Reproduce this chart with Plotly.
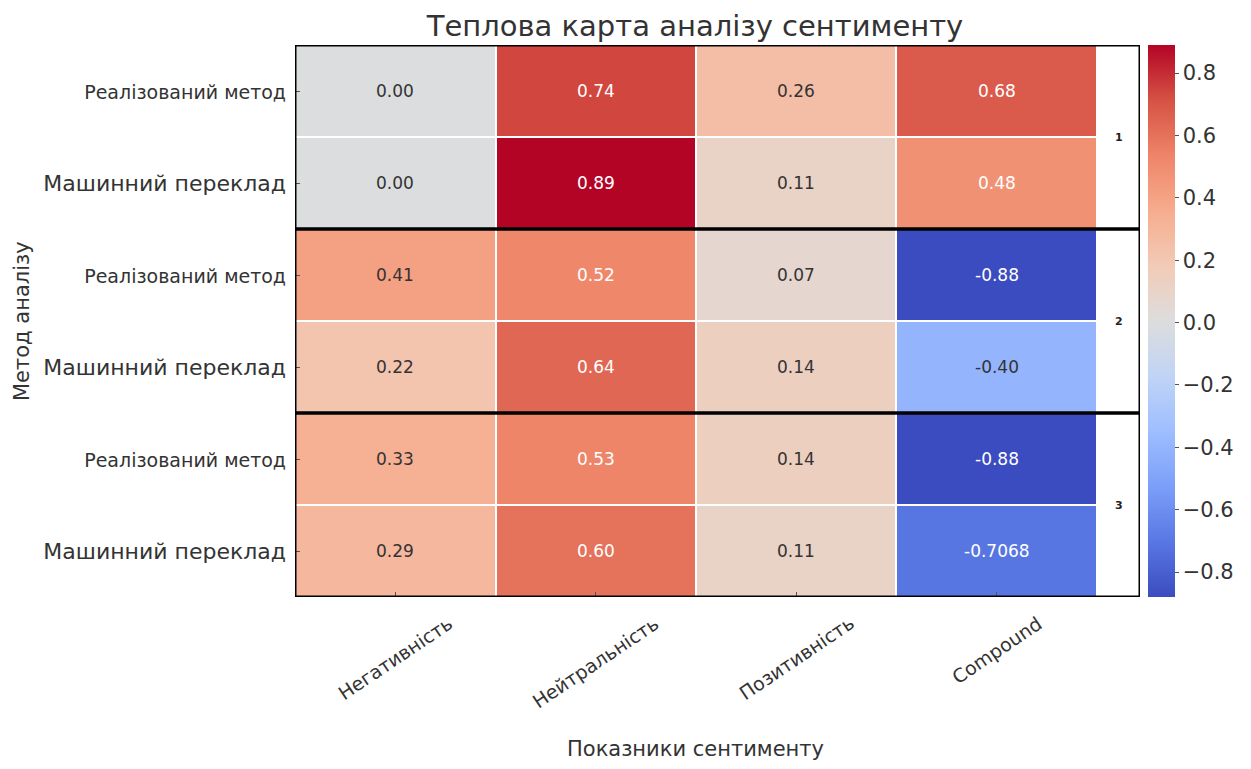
import plotly.graph_objects as go
from plotly.colors import sample_colorscale

# ---- data ----
columns = ["Негативність", "Нейтральність", "Позитивність", "Compound"]
row_labels = ["Реалізований метод", "Машинний переклад",
              "Реалізований метод", "Машинний переклад",
              "Реалізований метод", "Машинний переклад"]
group_labels = ["1", "2", "3"]
values = [
    [0.00, 0.74, 0.26, 0.68],
    [0.00, 0.89, 0.11, 0.48],
    [0.41, 0.52, 0.07, -0.88],
    [0.22, 0.64, 0.14, -0.40],
    [0.33, 0.53, 0.14, -0.88],
    [0.29, 0.60, 0.11, -0.7068],
]
cell_text = [
    ["0.00", "0.74", "0.26", "0.68"],
    ["0.00", "0.89", "0.11", "0.48"],
    ["0.41", "0.52", "0.07", "-0.88"],
    ["0.22", "0.64", "0.14", "-0.40"],
    ["0.33", "0.53", "0.14", "-0.88"],
    ["0.29", "0.60", "0.11", "-0.7068"],
]
cbar_ticks = [-0.8, -0.6, -0.4, -0.2, 0.0, 0.2, 0.4, 0.6, 0.8]

# ---- style ----
FONT = "DejaVu Sans"
TXT = "#333333"
coolwarm_hex = ["#3b4cc0", "#5977e3", "#7b9ff9", "#9ebeff", "#c0d4f5", "#dddddd",
                "#f2cbb7", "#f7ac8e", "#ee8468", "#d65244", "#b40426"]
colorscale = [[i / (len(coolwarm_hex) - 1), c] for i, c in enumerate(coolwarm_hex)]

W, H = 1235, 753
L, R, T, B = 287, 103, 37, 164
PW = W - L - R
PH = H - T - B

flat = [v for r in values for v in r]
zmin, zmax = min(flat), max(flat)
n_rows = len(values)
n_cols = len(columns)
extra = 0.2145  # width of the group-label strip (in column units)

fig = go.Figure()
fig.add_trace(go.Heatmap(
    z=values, x=list(range(n_cols)), y=list(range(n_rows)),
    colorscale=colorscale, zmin=zmin, zmax=zmax,
    xgap=2, ygap=2, hoverinfo="skip",
    colorbar=dict(
        x=(1140 - L) / PW, xanchor="left", xpad=0, ypad=0,
        y=0.5, yanchor="middle", len=1, lenmode="fraction",
        thickness=27, outlinewidth=0,
        tickvals=cbar_ticks, tickformat=".1f",
        ticks="outside", ticklen=4, tickcolor="#555",
        tickfont=dict(family=FONT, size=21, color=TXT),
    ),
))


def rel_lum(rgb):
    out = []
    for c in rgb:
        c = c / 255
        out.append(c / 12.92 if c <= 0.03928 else ((c + 0.055) / 1.055) ** 2.4)
    return 0.2126 * out[0] + 0.7152 * out[1] + 0.0722 * out[2]


annotations = []
for i, row in enumerate(values):
    for j, v in enumerate(row):
        col = sample_colorscale(colorscale, [(v - zmin) / (zmax - zmin)])[0]
        rgb = [float(s) for s in col[col.index("(") + 1:-1].split(",")]
        fc = "#333333" if rel_lum(rgb) > 0.408 else "white"
        annotations.append(dict(x=j, y=i, xref="x", yref="y", text=cell_text[i][j],
                                showarrow=False, font=dict(family=FONT, size=17, color=fc)))

shapes = []
for g, lab in enumerate(group_labels):
    y0 = g * 2 - 0.5
    y1 = g * 2 + 1.5
    shapes.append(dict(type="rect", xref="x", yref="y", x0=-0.5, x1=n_cols - 0.5 + extra,
                       y0=y0, y1=y1, line=dict(color="black", width=3)))
    annotations.append(dict(x=n_cols - 0.5 + extra / 2, y=(y0 + y1) / 2, xref="x", yref="y",
                            text="<b>" + lab + "</b>", showarrow=False,
                            font=dict(family=FONT, size=11, color="#222")))

# rotated x tick labels, centred under each tick (matplotlib style)
for j, lab in enumerate(columns):
    annotations.append(dict(x=j, y=0, xref="x", yref="paper", text=lab,
                            textangle=-34, showarrow=False,
                            xanchor="center", yanchor="top", yshift=-12,
                            font=dict(family=FONT, size=19, color=TXT)))

ytext = []
for lab in row_labels:
    if lab.startswith("Реал"):
        ytext.append("<span style='font-size:19px'>" + lab + "</span>")
    else:
        ytext.append(lab)

# axis titles
annotations.append(dict(text="Метод аналізу", xref="paper", yref="paper",
                        x=(14 - L) / PW, y=0.5, textangle=-90, showarrow=False,
                        xanchor="center", yanchor="middle",
                        font=dict(family=FONT, size=21, color=TXT)))
annotations.append(dict(text="Показники сентименту", xref="paper", yref="paper",
                        x=(687 - L) / PW, y=-(741 - (T + PH)) / PH, showarrow=False,
                        xanchor="center", yanchor="middle",
                        font=dict(family=FONT, size=21, color=TXT)))

fig.update_layout(
    width=W, height=H,
    margin=dict(l=L, r=R, t=T, b=B, autoexpand=False),
    paper_bgcolor="white", plot_bgcolor="white",
    font=dict(family=FONT, color=TXT),
    title=dict(text="Теплова карта аналізу сентименту", x=687 / W, xanchor="center",
               xref="container", y=1 - 18 / H, yanchor="middle",
               font=dict(family=FONT, size=29, color=TXT)),
    xaxis=dict(range=[-0.5, n_cols - 0.5 + extra], tickvals=list(range(n_cols)),
               showticklabels=False, showgrid=False, zeroline=False,
               ticks="inside", ticklen=5, tickcolor="#555"),
    yaxis=dict(range=[n_rows - 0.5, -0.5], tickvals=list(range(n_rows)),
               ticktext=ytext, showgrid=False, zeroline=False,
               ticks="inside", ticklen=5, tickcolor="#555", ticklabelstandoff=8,
               tickfont=dict(family=FONT, size=22, color=TXT)),
    shapes=shapes,
    annotations=annotations,
)

fig.write_html("out.html")
